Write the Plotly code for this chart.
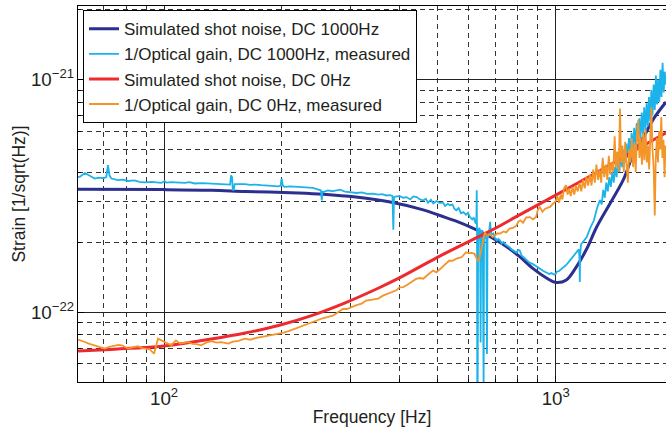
import math
import plotly.graph_objects as go

SCALE = 1e-22  # values below are in units of 1e-22 strain/sqrt(Hz)

# Simulated shot noise, DC 1000Hz
f_sim1000 = [60, 100, 132, 161, 220, 255, 309, 378, 459, 506, 557, 616, 680, 721, 762, 809,
             874, 947, 1000, 1062, 1128, 1200, 1272, 1376, 1487, 1580, 1680, 1780, 1912]
h_sim1000 = [3.37, 3.36, 3.34, 3.30, 3.25, 3.21, 3.12, 2.97, 2.75, 2.60, 2.46, 2.29, 2.11, 1.99, 1.87, 1.73,
             1.54, 1.40, 1.34, 1.37, 1.56, 1.87, 2.32, 2.93, 3.70, 4.80, 5.70, 6.80, 8.00]

# 1/Optical gain, DC 1000Hz, measured
f_meas1000 = [60.3, 61, 62.8, 64.5, 66.5, 68, 70, 71.2, 71.9, 72.6, 73.4, 76.3, 78.5, 80.9, 84, 86.5,
              89.3, 93, 96, 98.4, 100.3, 101.5, 104, 108.6, 113, 116, 119.8, 125, 132, 137, 142.9,
              147.5, 148.3, 149.2, 149.8, 150.6, 151.5, 153, 157, 160.8, 166, 171, 177.1, 183, 189,
              195.6, 198.5, 199.5, 201, 203, 210, 220, 231.3, 240, 247.8, 251.5, 252.7, 253.8, 255.1,
              262, 270, 281.4, 290, 300, 310.5, 320, 330, 342, 352, 360, 370, 378, 383, 384.9, 386.5,
              392, 400, 408, 416, 425, 433, 441.6, 450, 459, 466, 472, 480, 487, 496, 506, 515, 522,
              530, 537, 545, 551, 557, 565, 573, 581, 590, 597, 604, 612, 618, 622, 626, 627.5, 628.5,
              629.5, 630.5, 632, 633.5, 637, 641, 643, 645, 649, 651, 652.5, 654.5, 656, 661, 665,
              667.5, 669.5, 675, 680, 684, 693, 700, 707, 714, 721, 728, 735, 744, 752, 762, 770,
              779.6, 795, 802, 809, 818, 830, 842, 857, 873, 890, 910, 930, 950, 963, 975, 990, 1000,
              1006, 1020, 1040, 1062, 1085, 1105, 1128, 1145, 1150, 1152, 1154, 1160, 1180, 1200,
              1225, 1252, 1275, 1297,
              1310, 1322, 1334, 1346, 1358, 1370, 1382, 1394, 1406, 1418, 1430, 1442, 1454, 1466, 1478,
              1490, 1502, 1514, 1526, 1538, 1550, 1562, 1574, 1586, 1598, 1610, 1622, 1634, 1646, 1658,
              1670, 1682, 1694, 1706, 1718, 1730, 1742, 1754, 1766, 1778, 1790, 1802, 1814, 1826, 1838,
              1850, 1862, 1874, 1886, 1898, 1912]
h_meas1000 = [3.80, 3.82, 3.96, 3.85, 3.75, 3.78, 3.76, 3.80, 4.28, 3.85, 3.75, 3.69, 3.71, 3.66, 3.68, 3.63,
              3.61, 3.63, 3.60, 3.59, 3.66, 3.60, 3.62, 3.61, 3.59, 3.62, 3.57, 3.58, 3.57, 3.55, 3.53,
              3.53, 3.87, 3.80, 3.34, 3.36, 3.55, 3.55, 3.54, 3.55, 3.52, 3.53, 3.51, 3.50, 3.48,
              3.47, 3.50, 3.75, 3.50, 3.45, 3.47, 3.46, 3.45, 3.42, 3.36, 3.33, 3.02, 3.30, 3.28,
              3.33, 3.31, 3.36, 3.29, 3.27, 3.25, 3.27, 3.22, 3.23, 3.20, 3.21, 3.17, 3.18, 3.15, 2.26, 3.12,
              3.14, 3.15, 3.10, 3.12, 3.05, 3.14, 3.12, 3.05, 3.02, 3.07, 2.95, 3.04, 2.93, 3.00, 2.94, 2.96, 2.86,
              2.92, 2.88, 2.90, 2.78, 2.74, 2.80, 2.66, 2.69, 2.62, 2.67, 2.56, 2.50, 2.55, 2.44, 2.40, 2.6, 3.34,
              2.2, 0.45, 0.45, 2.0, 2.3, 2.25, 0.74, 2.2, 2.25, 2.1, 0.45, 0.45, 2.18, 2.12, 2.05,
              0.66, 2.08, 2.15, 2.44, 2.15, 2.18, 2.07, 2.03, 2.06, 2.03, 1.97, 2.00, 1.95, 1.93, 1.90, 1.86,
              1.84, 1.80, 1.85, 1.84, 1.75, 1.71, 1.67, 1.63, 1.61, 1.58, 1.54, 1.50, 1.47, 1.457, 1.47, 1.45, 1.46,
              1.49, 1.50, 1.54, 1.589, 1.66, 1.73, 1.81, 1.86, 1.70, 1.346, 1.75, 1.95, 2.02, 2.10,
              2.30, 2.48, 2.80, 3.03,
              2.9, 3.35, 3.1, 3.6, 3.3, 3.8, 3.45, 4.0, 3.6, 4.2, 3.8, 4.5, 4.0, 4.8, 4.2,
              5.0, 4.4, 5.3, 4.6, 5.6, 4.8, 5.9, 5.0, 6.2, 5.2, 6.5, 5.4, 6.8, 5.6, 7.2,
              5.8, 7.6, 6.0, 7.9, 6.3, 8.4, 6.6, 9.0, 7.0, 9.5, 7.4, 10.4, 7.8, 10.0, 8.0,
              11.0, 8.4, 11.8, 8.8, 10.8, 9.5]

# Simulated shot noise, DC 0Hz
f_sim0 = [60, 73, 89, 100, 132, 161, 196, 238, 290, 352, 400, 496, 640, 721, 793, 1000, 1294, 1641, 1912]
h_sim0 = [0.680, 0.690, 0.703, 0.714, 0.765, 0.812, 0.875, 0.965, 1.095, 1.265, 1.405, 1.71, 2.12, 2.35,
          2.57, 3.18, 4.05, 5.10, 5.90]

# 1/Optical gain, DC 0Hz, measured
f_meas0 = [60.3, 61.5, 62.8, 64.5, 66.5, 68.5, 70.6, 72.5, 74.8, 76.5, 78, 79.5, 80.9, 83, 85.8, 88, 90, 92,
           94.3, 95.5, 96.5, 98.5, 100.4, 102.5, 104.4, 106, 107.2, 110, 112.5, 115.1, 118, 121, 124.5,
           128, 132, 136, 140, 145.7, 150, 155, 160.8, 166, 171, 177.1, 183, 189, 195.6, 201, 208,
           215.6, 222, 230, 237.8, 245, 254, 262.4, 270, 278, 286, 293, 300, 310, 319.5, 328, 340,
           352.3, 362, 375, 392, 399, 408, 416, 428, 440, 450, 459, 472, 486, 496, 510, 522, 535, 545,
           560, 575, 590, 600, 610, 620, 626, 632, 637, 641, 645, 652, 659, 665, 670, 680, 690, 700,
           710, 721, 735, 748, 762, 778, 793, 803, 812, 825, 840, 860, 875, 891, 900, 910, 925, 940,
           967, 990,
           1000, 1010, 1020, 1030, 1040, 1050, 1062, 1072, 1082, 1092, 1104, 1115, 1126, 1138, 1150,
           1162, 1174, 1186, 1198, 1210, 1222, 1234, 1246, 1258, 1270, 1282, 1294, 1306, 1318, 1330,
           1342, 1354, 1366, 1378, 1390, 1402, 1414, 1424, 1436, 1448, 1459, 1468, 1480, 1492, 1504,
           1516, 1528, 1540, 1552, 1564, 1576, 1588, 1600, 1612, 1624, 1636, 1648, 1660, 1672, 1684,
           1696, 1708, 1720, 1732, 1744, 1754, 1766, 1778, 1790, 1800, 1812, 1824, 1836, 1848, 1860,
           1872, 1884, 1896, 1906, 1912]
h_meas0 = [0.761, 0.755, 0.743, 0.730, 0.719, 0.705, 0.696, 0.708, 0.719, 0.722, 0.719, 0.705, 0.696, 0.705,
           0.712, 0.700, 0.696, 0.690, 0.662, 0.72, 0.768, 0.755, 0.743, 0.735, 0.719, 0.740, 0.755, 0.731,
           0.738, 0.743, 0.730, 0.728, 0.719, 0.738, 0.750, 0.738, 0.742, 0.731, 0.745, 0.752, 0.768, 0.760,
           0.772, 0.780, 0.786, 0.795, 0.807, 0.814, 0.828, 0.848, 0.865, 0.88, 0.906, 0.918, 0.940, 0.952,
           0.965, 0.998, 1.03, 1.03, 1.05, 1.07, 1.087, 1.12, 1.13, 1.142, 1.176, 1.20, 1.24, 1.277, 1.28,
           1.303, 1.35, 1.387, 1.40, 1.39, 1.45, 1.507, 1.48, 1.55, 1.60, 1.665, 1.66, 1.70, 1.72, 1.806,
           1.79, 1.795, 1.78, 1.72, 1.665, 1.669, 1.75, 1.84, 2.05, 2.20, 2.15, 2.13, 2.16, 2.10, 2.14,
           2.18, 2.175, 2.22, 2.20, 2.285, 2.30, 2.35, 2.45, 2.48, 2.42, 2.55, 2.56, 2.50, 2.56, 2.75, 2.83,
           2.70, 2.78, 2.83, 2.95,
           3.0, 3.15, 2.95, 3.2, 3.05, 3.4, 3.51, 3.2, 3.4, 3.15, 3.45, 3.2, 3.5, 3.3, 3.6,
           3.3, 3.7, 3.4, 3.8, 3.5, 3.9, 3.5, 4.1, 3.6, 4.3, 3.7, 4.1, 3.6, 4.6, 3.8,
           4.3, 3.7, 4.7, 3.9, 4.4, 4.0, 5.7, 4.2, 4.9, 4.0, 7.5, 4.4, 5.2, 4.0, 5.4,
           4.3, 3.6, 5.0, 4.4, 5.6, 4.2, 5.3, 4.0, 5.8, 6.7, 4.6, 5.6, 4.3, 5.9, 4.5,
           6.1, 4.4, 5.2, 4.1, 6.3, 7.6, 5.0, 4.2, 2.6, 4.5, 5.6, 4.4, 6.0, 5.0, 6.9,
           4.6, 5.5, 3.8, 5.2, 4.6]

names = ["Simulated shot noise, DC 1000Hz", "1/Optical gain, DC 1000Hz, measured",
         "Simulated shot noise, DC 0Hz", "1/Optical gain, DC 0Hz, measured"]
colors = ["#2B2F8F", "#1BB3EA", "#EE2A2E", "#F4952A"]
widths = [3, 1.8, 3, 1.8]

series = [(f_sim1000, h_sim1000), (f_meas1000, h_meas1000), (f_sim0, h_sim0), (f_meas0, h_meas0)]

fig = go.Figure()
for (fx, hy), nm, c, w in zip(series, names, colors, widths):
    smooth = nm.startswith("Simulated")
    line = dict(color=c, width=w)
    if smooth:
        line.update(shape="spline", smoothing=1.0)
    fig.add_trace(go.Scatter(x=fx, y=[v * SCALE for v in hy], mode="lines", name=nm, line=line))

FONT = "Liberation Sans, Arial, Helvetica, sans-serif"
TXT = "#231F20"
grid_common = dict(
    type="log", showline=True, mirror=True, linecolor="black", linewidth=1,
    showgrid=True, gridcolor="#222222", gridwidth=1,
    ticks="inside", ticklen=6, tickcolor="black",
    dtick=1, exponentformat="power", showexponent="all",
    tickfont=dict(family=FONT, size=15, color=TXT),
    minor=dict(showgrid=True, gridcolor="#333333", gridwidth=1, griddash="5px,4px",
               ticks="inside", ticklen=3, tickcolor="black"),
    zeroline=False, automargin=False,
)

fig.update_layout(
    width=666, height=434,
    margin=dict(l=78, r=0, t=6, b=52),
    paper_bgcolor="white", plot_bgcolor="white",
    font=dict(family=FONT, size=16, color=TXT),
    showlegend=True,
    legend=dict(x=0.0085, y=0.989, xanchor="left", yanchor="top",
                bgcolor="white", bordercolor="black", borderwidth=1,
                font=dict(family=FONT, size=17, color=TXT),
                tracegroupgap=0, itemwidth=30),
    xaxis=dict(range=[math.log10(60.3), math.log10(1912)],
               title=dict(text="Frequency [Hz]", font=dict(family=FONT, size=17.5, color=TXT), standoff=2),
               **grid_common),
    yaxis=dict(range=[math.log10(5e-23), math.log10(2.07e-21)],
               title=dict(text="Strain [1/sqrt(Hz)]", font=dict(family=FONT, size=17.5, color=TXT), standoff=0),
               **grid_common),
)

fig.write_html("out.html", config={"displayModeBar": False},
               post_script="document.body.style.margin='0';")
